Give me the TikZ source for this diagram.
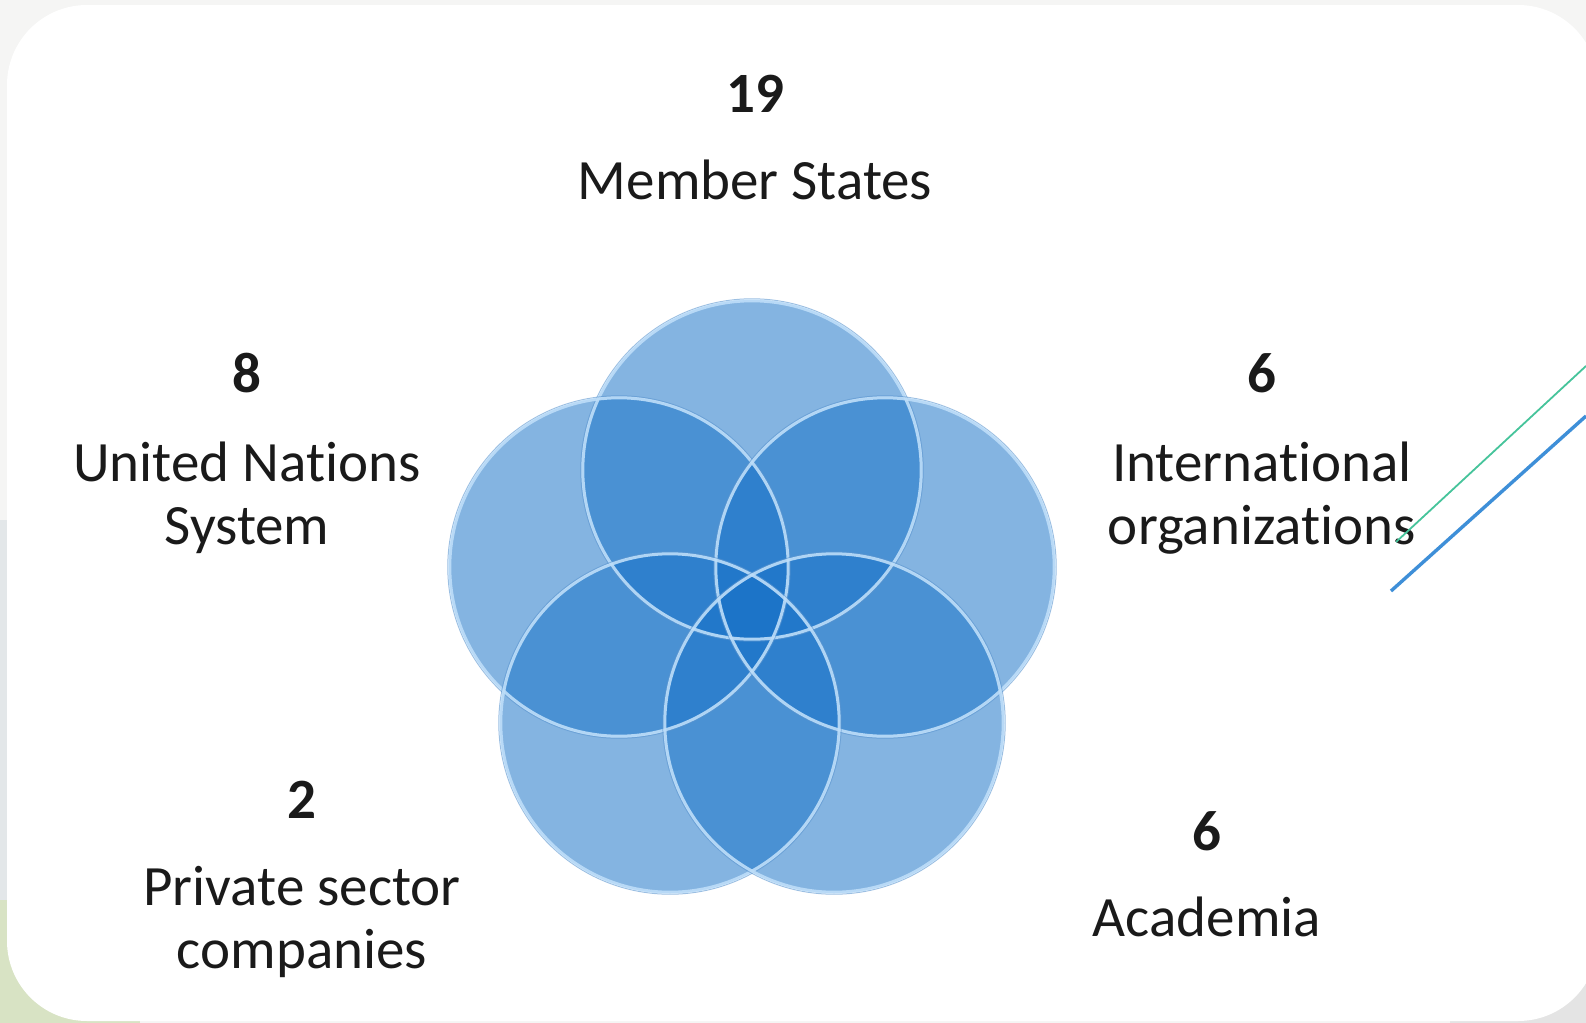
\documentclass[tikz,border=0pt]{standalone}
\usepackage{fontspec}
\setmainfont{Carlito}[Ligatures={NoCommon,NoRequired,NoContextual}]
\definecolor{txt}{HTML}{1A1A1A}
\definecolor{petalblue}{RGB}{23,114,200}
\definecolor{rimblue}{HTML}{BEDEF9}
\definecolor{rimdark}{HTML}{5B95D0}
\definecolor{bggrey}{HTML}{F5F5F4}
\definecolor{bgleft}{HTML}{E3E7E9}
\definecolor{bggreen}{HTML}{D8E3C4}
\definecolor{bgcorner}{HTML}{E4E4E4}
\definecolor{linegreen}{RGB}{70,196,155}
\definecolor{lineblue}{RGB}{62,143,216}
\begin{document}
\begin{tikzpicture}[x=0.5pt,y=-0.5pt,
  lbl/.style={font=\fontsize{28.5}{31}\selectfont, text=txt, anchor=base, inner sep=0pt},
  num/.style={lbl, font=\fontsize{28.5}{31}\selectfont\bfseries},
  petal/.style={circle, minimum size=170pt, inner sep=0pt, fill=petalblue, fill opacity=0.53},
  rim/.style={draw=rimblue, line width=1.5pt, opacity=0.9},
  rimout/.style={draw=rimdark, line width=0.5pt, opacity=0.6},
]
\useasboundingbox (0,0) rectangle (1586,1023);
% background outside the card
\fill[bggrey] (0,0) rectangle (1586,1023);
\fill[bgleft] (0,520) rectangle (20,1023);
\fill[bggreen] (0,900) rectangle (140,1023);
\fill[bgcorner] (1450,900) rectangle (1586,1023);
% white card
\fill[white, rounded corners=40pt] (7,5) rectangle (1598,1021);

% petals
\node[petal] (pt) at (752,470) {};
\node[petal] (pl) at (619,567) {};
\node[petal] (pr) at (885,567) {};
\node[petal] (pbl) at (670,723) {};
\node[petal] (pbr) at (834,723) {};
\foreach \p in {pt,pl,pr,pbl,pbr}{
  \draw[rimout] (\p) circle[radius=85.6pt];
  \draw[rim] (\p) circle[radius=84.6pt];
}

% labels
\node[num] (n1) at (755,112) {19};
\node[lbl] (l1) at (755,199) {Member States};
\node[num] (n2) at (247,392) {8};
\node[lbl] (l2a) at (247,481) {United Nations};
\node[lbl] (l2b) at (247,544) {System};
\node[num] (n3) at (1262,392) {6};
\node[lbl] (l3a) at (1262,481) {International};
\node[lbl] (l3b) at (1262,544) {organizations};
\node[num] (n4) at (302,818) {2};
\node[lbl] (l4a) at (302,905) {Private sector};
\node[lbl] (l4b) at (302,968) {companies};
\node[num] (n5) at (1207,850) {6};
\node[lbl] (l5) at (1207,936) {Academia};

% decorative lines
\coordinate (g1) at (1396,542);
\coordinate (g2) at (1586,366);
\coordinate (b1) at (1391,591);
\coordinate (b2) at (1586,416);
\draw[linegreen, line width=0.9pt] (g1) -- (g2);
\draw[lineblue, line width=1.7pt] (b1) -- (b2);
\end{tikzpicture}
\end{document}
